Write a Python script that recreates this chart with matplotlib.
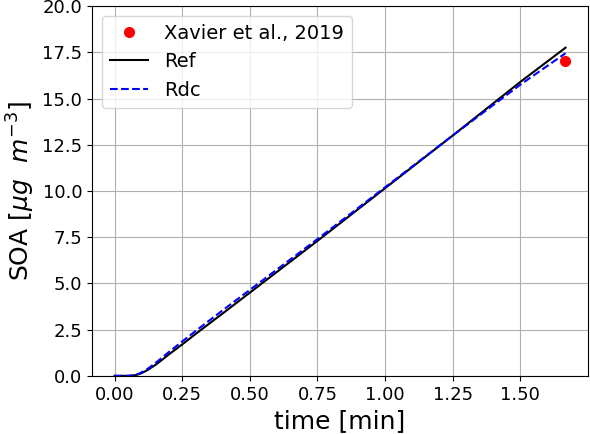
import matplotlib
matplotlib.use("Agg")
import matplotlib.pyplot as plt

# time [min]
t = [0.0, 0.05, 0.07, 0.08, 0.09, 0.1, 0.11, 0.125, 0.15, 0.175, 0.2, 0.25,
     0.3, 0.4, 0.5, 0.75, 1.0, 1.25, 1.5, 1.667]
soa_ref = [0.0, 0.0, 0.02, 0.05, 0.09, 0.15, 0.22, 0.34, 0.58, 0.86, 1.15, 1.7,
           2.27, 3.38, 4.5, 7.3, 10.15, 13.0, 15.9, 17.75]
soa_rdc = [0.0, 0.0, 0.03, 0.07, 0.12, 0.19, 0.27, 0.41, 0.68, 0.98, 1.28, 1.86,
           2.43, 3.55, 4.65, 7.4, 10.2, 13.0, 15.75, 17.45]

# measurement
t_obs = [1.665]
soa_obs = [17.03]

fig, ax = plt.subplots(figsize=(5.9, 4.34), dpi=100)
ax.plot(t_obs, soa_obs, 'o', color='red', markersize=7, label='Xavier et al., 2019')
ax.plot(t, soa_ref, '-', color='black', lw=1.5, label='Ref')
ax.plot(t, soa_rdc, '--', color='blue', lw=1.5, label='Rdc')

ax.set_ylim(0, 20)
ax.set_xlim(-0.0833, 1.75)
ax.set_xticks([0.0, 0.25, 0.5, 0.75, 1.0, 1.25, 1.5])
ax.set_yticks([0, 2.5, 5, 7.5, 10, 12.5, 15, 17.5, 20])
ax.tick_params(labelsize=13)
ax.set_xlabel('time [min]', fontsize=18)
ax.set_ylabel(r'SOA [$\mu g\ \ m^{-3}$]', fontsize=18)
ax.grid(True)
ax.legend(fontsize=14, loc='upper left')

plt.subplots_adjust(left=0.156, right=0.9966, bottom=0.134, top=0.986)
plt.savefig('out.png')
